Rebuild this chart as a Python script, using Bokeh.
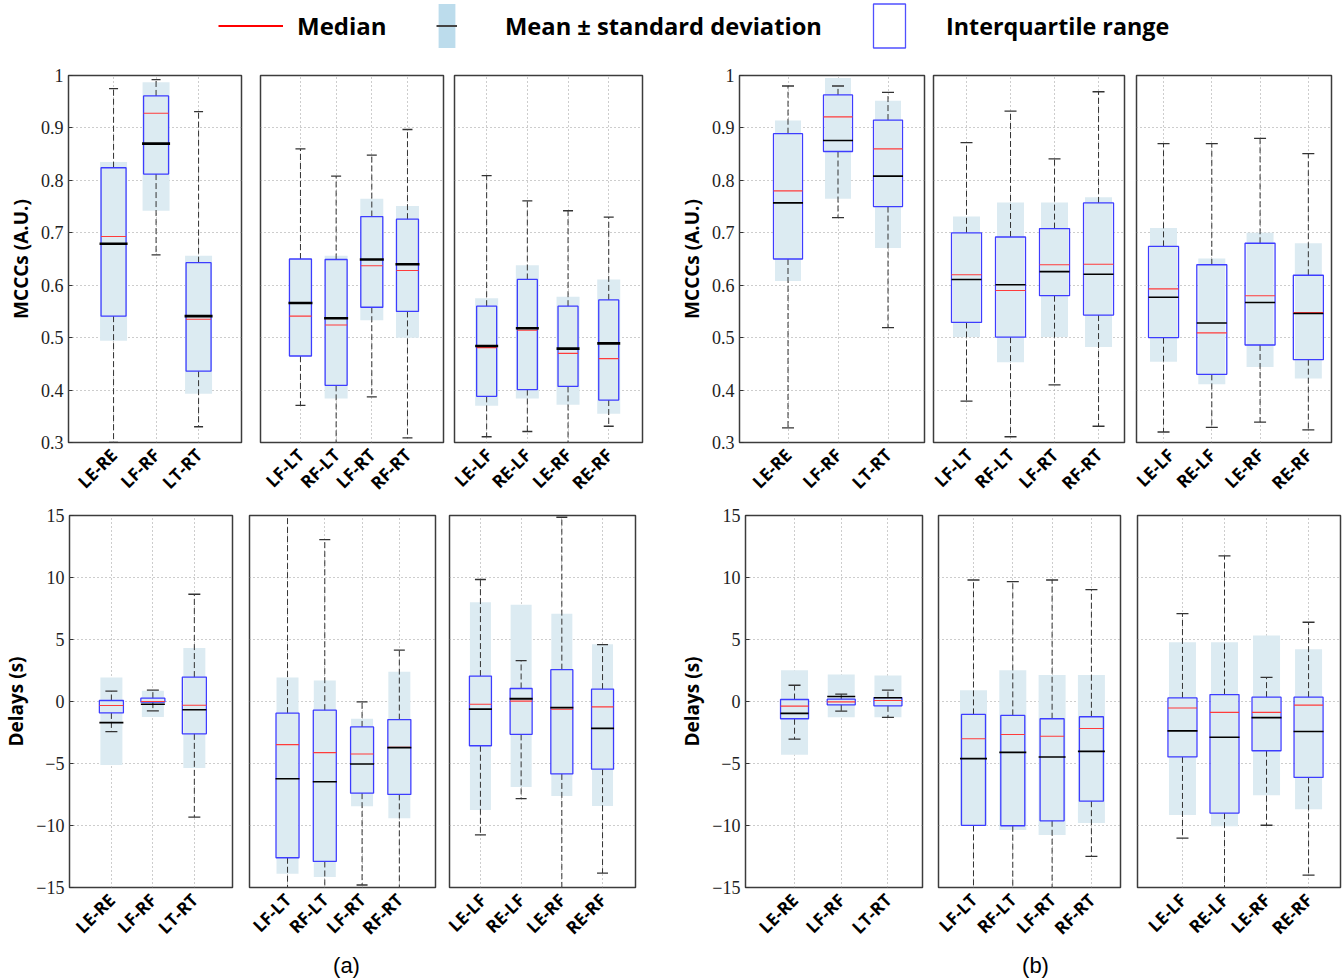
import math
from bokeh.plotting import figure
from bokeh.layouts import column, row
from bokeh.models import (ColumnDataSource, Range1d, FixedTicker, Grid, Legend, LegendItem,
                          CustomJSTickFormatter, Label)
from bokeh.embed import file_html
from bokeh.resources import INLINE

# ---------------- DATA ----------------
# (a) MCCCs
a_m1_cats = ["LE-RE", "LF-RF", "LT-RT"]
a_m1_whi = [0.975, 0.992, 0.931]
a_m1_wlo = [0.300, 0.658, 0.330]
a_m1_sdhi = [0.835, 0.987, 0.656]
a_m1_sdlo = [0.494, 0.742, 0.393]
a_m1_q3 = [0.824, 0.961, 0.643]
a_m1_q1 = [0.541, 0.812, 0.436]
a_m1_med = [0.693, 0.928, 0.535]
a_m1_mean = [0.679, 0.870, 0.541]

a_m2_cats = ["LF-LT", "RF-LT", "LF-RT", "RF-RT"]
a_m2_whi = [0.860, 0.808, 0.848, 0.897]
a_m2_wlo = [0.371, 0.290, 0.387, 0.309]
a_m2_sdhi = [0.650, 0.656, 0.765, 0.751]
a_m2_sdlo = [0.465, 0.384, 0.533, 0.500]
a_m2_q3 = [0.650, 0.649, 0.731, 0.726]
a_m2_q1 = [0.465, 0.409, 0.558, 0.550]
a_m2_med = [0.541, 0.524, 0.637, 0.628]
a_m2_mean = [0.566, 0.537, 0.649, 0.640]

a_m3_cats = ["LE-LF", "RE-LF", "LE-RF", "RE-RF"]
a_m3_whi = [0.809, 0.761, 0.742, 0.730]
a_m3_wlo = [0.311, 0.321, 0.290, 0.331]
a_m3_sdhi = [0.575, 0.638, 0.578, 0.611]
a_m3_sdlo = [0.370, 0.384, 0.372, 0.355]
a_m3_q3 = [0.560, 0.611, 0.560, 0.572]
a_m3_q1 = [0.388, 0.401, 0.407, 0.381]
a_m3_med = [0.481, 0.514, 0.470, 0.460]
a_m3_mean = [0.484, 0.518, 0.479, 0.489]

# (b) MCCCs
b_m1_cats = ["LE-RE", "LF-RF", "LT-RT"]
b_m1_whi = [0.980, 0.980, 0.968]
b_m1_wlo = [0.328, 0.729, 0.519]
b_m1_sdhi = [0.914, 0.995, 0.952]
b_m1_sdlo = [0.608, 0.765, 0.671]
b_m1_q3 = [0.889, 0.963, 0.915]
b_m1_q1 = [0.650, 0.855, 0.750]
b_m1_med = [0.780, 0.921, 0.860]
b_m1_mean = [0.757, 0.876, 0.808]

b_m2_cats = ["LF-LT", "RF-LT", "LF-RT", "RF-RT"]
b_m2_whi = [0.872, 0.932, 0.841, 0.969]
b_m2_wlo = [0.379, 0.311, 0.410, 0.331]
b_m2_sdhi = [0.731, 0.758, 0.758, 0.768]
b_m2_sdlo = [0.501, 0.453, 0.501, 0.482]
b_m2_q3 = [0.700, 0.692, 0.708, 0.757]
b_m2_q1 = [0.529, 0.501, 0.580, 0.543]
b_m2_med = [0.620, 0.590, 0.639, 0.640]
b_m2_mean = [0.611, 0.601, 0.626, 0.621]

b_m3_cats = ["LE-LF", "RE-LF", "LE-RF", "RE-RF"]
b_m3_whi = [0.870, 0.870, 0.880, 0.851]
b_m3_wlo = [0.320, 0.329, 0.339, 0.324]
b_m3_sdhi = [0.709, 0.651, 0.700, 0.680]
b_m3_sdlo = [0.454, 0.411, 0.444, 0.422]
b_m3_q3 = [0.674, 0.639, 0.680, 0.619]
b_m3_q1 = [0.500, 0.430, 0.486, 0.458]
b_m3_med = [0.593, 0.509, 0.580, 0.548]
b_m3_mean = [0.577, 0.528, 0.567, 0.546]

# (a) Delays
a_d1_cats = ["LE-RE", "LF-RF", "LT-RT"]
a_d1_whi = [0.84, 0.92, 8.65]
a_d1_wlo = [-2.43, -0.75, -9.33]
a_d1_sdhi = [1.94, 0.86, 4.31]
a_d1_sdlo = [-5.12, -1.24, -5.36]
a_d1_q3 = [0.08, 0.27, 1.97]
a_d1_q1 = [-0.92, -0.05, -2.61]
a_d1_med = [-0.32, 0.00, -0.30]
a_d1_mean = [-1.70, -0.22, -0.67]

a_d2_cats = ["LF-LT", "RF-LT", "LF-RT", "RF-RT"]
a_d2_whi = [16.0, 13.05, -0.03, 4.15]
a_d2_wlo = [-16.0, -16.0, -14.8, -16.0]
a_d2_sdhi = [1.94, 1.70, -1.40, 2.40]
a_d2_sdlo = [-13.9, -14.15, -8.44, -9.41]
a_d2_q3 = [-0.94, -0.70, -2.05, -1.46]
a_d2_q1 = [-12.6, -12.9, -7.39, -7.49]
a_d2_med = [-3.48, -4.12, -4.23, -3.69]
a_d2_mean = [-6.23, -6.47, -5.04, -3.72]

a_d3_cats = ["LE-LF", "RE-LF", "LE-RF", "RE-RF"]
a_d3_whi = [9.84, 3.30, 14.86, 4.59]
a_d3_wlo = [-10.76, -7.84, -16.0, -13.84]
a_d3_sdhi = [8.00, 7.81, 7.08, 4.62]
a_d3_sdlo = [-8.76, -6.89, -7.62, -8.43]
a_d3_q3 = [2.05, 1.05, 2.57, 1.00]
a_d3_q1 = [-3.57, -2.65, -5.84, -5.46]
a_d3_med = [-0.22, 0.03, -0.62, -0.43]
a_d3_mean = [-0.62, 0.22, -0.49, -2.16]

# (b) Delays
b_d1_cats = ["LE-RE", "LF-RF", "LT-RT"]
b_d1_whi = [1.31, 0.59, 0.91]
b_d1_wlo = [-3.04, -0.77, -1.28]
b_d1_sdhi = [2.53, 2.18, 2.10]
b_d1_sdlo = [-4.29, -1.28, -1.28]
b_d1_q3 = [0.16, 0.19, 0.32]
b_d1_q1 = [-1.39, -0.27, -0.35]
b_d1_med = [-0.37, -0.03, 0.08]
b_d1_mean = [-0.96, 0.40, 0.30]

b_d2_cats = ["LF-LT", "RF-LT", "LF-RT", "RF-RT"]
b_d2_whi = [9.80, 9.67, 9.80, 9.03]
b_d2_wlo = [-16.0, -16.0, -16.0, -12.49]
b_d2_sdhi = [0.91, 2.53, 2.13, 2.13]
b_d2_sdlo = [-9.99, -10.36, -10.76, -9.80]
b_d2_q3 = [-1.04, -1.12, -1.39, -1.23]
b_d2_q1 = [-9.99, -10.02, -9.62, -8.04]
b_d2_med = [-3.01, -2.66, -2.80, -2.18]
b_d2_mean = [-4.61, -4.10, -4.48, -4.02]

b_d3_cats = ["LE-LF", "RE-LF", "LE-RF", "RE-RF"]
b_d3_whi = [7.08, 11.74, 1.94, 6.39]
b_d3_wlo = [-11.02, -16.0, -9.98, -14.0]
b_d3_sdhi = [4.77, 4.77, 5.32, 4.21]
b_d3_sdlo = [-9.16, -10.06, -7.56, -8.68]
b_d3_q3 = [0.29, 0.56, 0.35, 0.35]
b_d3_q1 = [-4.47, -9.00, -3.97, -6.12]
b_d3_med = [-0.53, -0.88, -0.88, -0.29]
b_d3_mean = [-2.37, -2.88, -1.30, -2.42]

mccc_ticks = [0.3, 0.4, 0.5, 0.6, 0.7, 0.8, 0.9, 1.0]
delay_ticks = [-15, -10, -5, 0, 5, 10, 15]

# ---------------- STYLE / LAYOUT ----------------
SD_FILL = "#dcebf2"
IQR_COLOR = "#3d3dff"
MED_COLOR = "#ff3b3b"
WHISK_COLOR = "#333333"
GRID_COLOR = "#9a9a9a"
SANS = "Open Sans"
SERIF = "Liberation Serif"


def panel(stats, kind, show_y, fig_w, fig_h, bl, br, bt, bb, xr, iqr_w, sd_w, mean_w, mean_lw, cap):
    cats, whi, wlo, sdhi, sdlo, q3, q1, med, mean = stats
    pos = list(range(1, len(cats) + 1))
    src = ColumnDataSource(dict(
        x=pos, whi=whi, wlo=wlo, q3=q3, q1=q1, med=med, mean=mean,
        sd_mid=[(a + b) / 2 for a, b in zip(sdhi, sdlo)],
        sd_h=[a - b for a, b in zip(sdhi, sdlo)],
        iqr_mid=[(a + b) / 2 for a, b in zip(q3, q1)],
        iqr_h=[a - b for a, b in zip(q3, q1)],
    ))
    if kind == "mccc":
        yr, ticks, ylabel = (0.3, 1.0), mccc_ticks, "MCCCs (A.U.)"
        fmt = CustomJSTickFormatter(code="return (Math.round(tick*10)/10).toString()")
    else:
        yr, ticks, ylabel = (-15, 15), delay_ticks, "Delays (s)"
        fmt = CustomJSTickFormatter(code="return tick < 0 ? '\u2212' + Math.abs(tick) : tick.toString()")

    p = figure(width=fig_w, height=fig_h, x_range=Range1d(*xr), y_range=Range1d(*yr),
               output_backend="svg", toolbar_location=None, title=None,
               y_axis_location="left" if show_y else None,
               min_border_left=bl, min_border_right=br, min_border_top=bt, min_border_bottom=bb)
    p.center = [r for r in p.center if not isinstance(r, Grid)]
    p.add_layout(Grid(dimension=0, ticker=FixedTicker(ticks=pos), grid_line_color=GRID_COLOR,
                      grid_line_dash="1 3", grid_line_width=1))
    p.add_layout(Grid(dimension=1, ticker=FixedTicker(ticks=ticks), grid_line_color=GRID_COLOR,
                      grid_line_dash="1 3", grid_line_width=1))
    p.outline_line_color = "#3c3c3c"
    p.outline_line_width = 1.5
    p.outline_line_alpha = 1
    p.background_fill_color = "white"
    p.border_fill_color = "white"

    xa = p.xaxis[0]
    xa.ticker = FixedTicker(ticks=pos)
    xa.formatter = CustomJSTickFormatter(args=dict(labels=cats),
                                         code="return labels[Math.round(tick) - 1] || ''")
    xa.major_label_orientation = math.pi / 4
    xa.major_label_text_font = SANS
    xa.major_label_text_font_style = "bold"
    xa.major_label_text_font_size = "17.5px"
    xa.major_label_text_color = "black"
    xa.major_label_standoff = 3
    xa.major_tick_line_color = None
    xa.minor_tick_line_color = None
    xa.axis_line_color = None

    if show_y:
        ya = p.yaxis[0]
        ya.ticker = FixedTicker(ticks=ticks)
        ya.formatter = fmt
        ya.major_label_text_font = SERIF
        ya.major_label_text_font_size = "18px"
        ya.major_label_text_color = "#222222"
        ya.major_label_standoff = 5
        ya.major_tick_in = 4
        ya.major_tick_out = 0
        ya.major_tick_line_color = "#333333"
        ya.minor_tick_line_color = None
        ya.axis_line_color = None
        ya.axis_label = ylabel
        ya.axis_label_text_font = SANS
        ya.axis_label_text_font_style = "bold"
        ya.axis_label_text_font_size = "19px"
        ya.axis_label_text_color = "black"
        ya.axis_label_standoff = 4

    p.rect(x="x", y="sd_mid", width=sd_w, width_units="screen", height="sd_h",
           fill_color=SD_FILL, line_color=None, source=src)
    p.segment(x0="x", y0="q3", x1="x", y1="whi", line_color=WHISK_COLOR, line_dash="6 3",
              line_width=1, source=src)
    p.segment(x0="x", y0="q1", x1="x", y1="wlo", line_color=WHISK_COLOR, line_dash="6 3",
              line_width=1, source=src)
    p.scatter(x="x", y="whi", marker="dash", size=cap, line_color=WHISK_COLOR, line_width=1.3, source=src)
    p.scatter(x="x", y="wlo", marker="dash", size=cap, line_color=WHISK_COLOR, line_width=1.3, source=src)
    p.rect(x="x", y="iqr_mid", width=iqr_w, width_units="screen", height="iqr_h",
           fill_color=None, line_color=IQR_COLOR, line_width=1.3, source=src)
    p.scatter(x="x", y="med", marker="dash", size=iqr_w, line_color=MED_COLOR, line_width=1.1, source=src)
    p.scatter(x="x", y="mean", marker="dash", size=mean_w, line_color="black", line_width=mean_lw, source=src)
    return p


def S(prefix):
    g = globals()
    return [g[prefix + s] for s in ("cats", "whi", "wlo", "sdhi", "sdlo", "q3", "q1", "med", "mean")]


TOP_H, TOP_T, TOP_B = 450, 20, 59
BOT_H, BOT_T, BOT_B = 445, 10, 58

top = [
    panel(S("a_m1_"), "mccc", True, 250, TOP_H, 68, 9, TOP_T, TOP_B, (-0.06, 4.01), 25, 27, 28, 2.6, 9),
    panel(S("a_m2_"), "mccc", False, 198, TOP_H, 10, 5, TOP_T, TOP_B, (-0.12, 5.01), 22, 23, 24, 2.6, 10),
    panel(S("a_m3_"), "mccc", False, 227, TOP_H, 6, 33, TOP_T, TOP_B, (0.21, 4.83), 20, 23, 23, 2.6, 10),
    panel(S("b_m1_"), "mccc", True, 253, TOP_H, 62, 4, TOP_T, TOP_B, (0.03, 3.73), 29, 26, 30, 1.6, 12),
    panel(S("b_m2_"), "mccc", False, 202, TOP_H, 5, 6, TOP_T, TOP_B, (0.25, 4.59), 30, 27, 30, 1.6, 12),
    panel(S("b_m3_"), "mccc", False, 212, TOP_H, 6, 11, TOP_T, TOP_B, (0.44, 4.48), 30, 27, 30, 1.6, 12),
]
bot = [
    panel(S("a_d1_"), "delay", True, 240, BOT_H, 65, 8, BOT_T, BOT_B, (-0.01, 3.92), 24, 22, 24, 1.6, 12),
    panel(S("a_d2_"), "delay", False, 202, BOT_H, 9, 7, BOT_T, BOT_B, (-0.02, 4.97), 23, 22, 24, 1.6, 11),
    panel(S("a_d3_"), "delay", False, 234, BOT_H, 7, 41, BOT_T, BOT_B, (0.24, 4.81), 22, 21, 23, 1.8, 11),
    panel(S("b_d1_"), "delay", True, 254, BOT_H, 62, 8, BOT_T, BOT_B, (-0.05, 3.74), 28, 27, 28, 1.6, 12),
    panel(S("b_d2_"), "delay", False, 198, BOT_H, 8, 8, BOT_T, BOT_B, (0.11, 4.74), 24, 27, 27, 1.6, 12),
    panel(S("b_d3_"), "delay", False, 214, BOT_H, 9, 2, BOT_T, BOT_B, (-0.07, 4.76), 29, 27, 30, 1.6, 12),
]

# ---------------- LEGEND STRIP ----------------
lg = figure(width=1342, height=55, output_backend="svg", toolbar_location=None, title=None,
            x_axis_location=None, y_axis_location=None, min_border=0,
            x_range=Range1d(0, 1), y_range=Range1d(0, 1))
lg.center = [r for r in lg.center if not isinstance(r, Grid)]
lg.outline_line_color = None
r_med = lg.line(x=[5, 6], y=[5, 6], line_color="red", line_width=2)
r_sd = lg.rect(x=[5], y=[5], width=1, height=1, fill_color="#bcdcec", line_color=None)
r_sdm = lg.line(x=[5, 6], y=[5, 6], line_color="#444444", line_width=2)
r_iqr = lg.rect(x=[5], y=[5], width=1, height=1, fill_color="white", line_color="#5050ff", line_width=1.3)


def mk_leg(label, rends, loc, gw, standoff, fs):
    return Legend(items=[LegendItem(label=label, renderers=rends)], location=loc,
                  orientation="horizontal", glyph_width=gw, glyph_height=55,
                  label_standoff=standoff, padding=0, margin=0, spacing=0,
                  border_line_color=None, background_fill_alpha=0,
                  label_text_font=SANS, label_text_font_style="bold",
                  label_text_font_size=fs, label_text_color="black")


lg.add_layout(mk_leg("Median", [r_med], (218, 2), 65, 14, "24px"), "center")
lg.add_layout(mk_leg("Mean \u00b1 standard deviation", [r_sd, r_sdm], (436, 2), 21, 48, "23.7px"), "center")
lg.add_layout(mk_leg("Interquartile range", [r_iqr], (869, 2), 40, 37, "23.3px"), "center")

# ---------------- (a) / (b) STRIP ----------------
lab = figure(width=1342, height=28, output_backend="svg", toolbar_location=None, title=None,
             x_axis_location=None, y_axis_location=None, min_border=0,
             x_range=Range1d(0, 1), y_range=Range1d(0, 1))
lab.center = [r for r in lab.center if not isinstance(r, Grid)]
lab.outline_line_color = None
for txt, xs in (("(a)", 346), ("(b)", 1035)):
    lab.add_layout(Label(x=xs, y=1, x_units="screen", y_units="screen", text=txt,
                         text_align="center", text_baseline="bottom",
                         text_font="Liberation Sans", text_font_size="22px", text_color="black"))

layout = column(lg, row(*top), row(*bot), lab)
open("out.html", "w").write(file_html(layout, INLINE))
